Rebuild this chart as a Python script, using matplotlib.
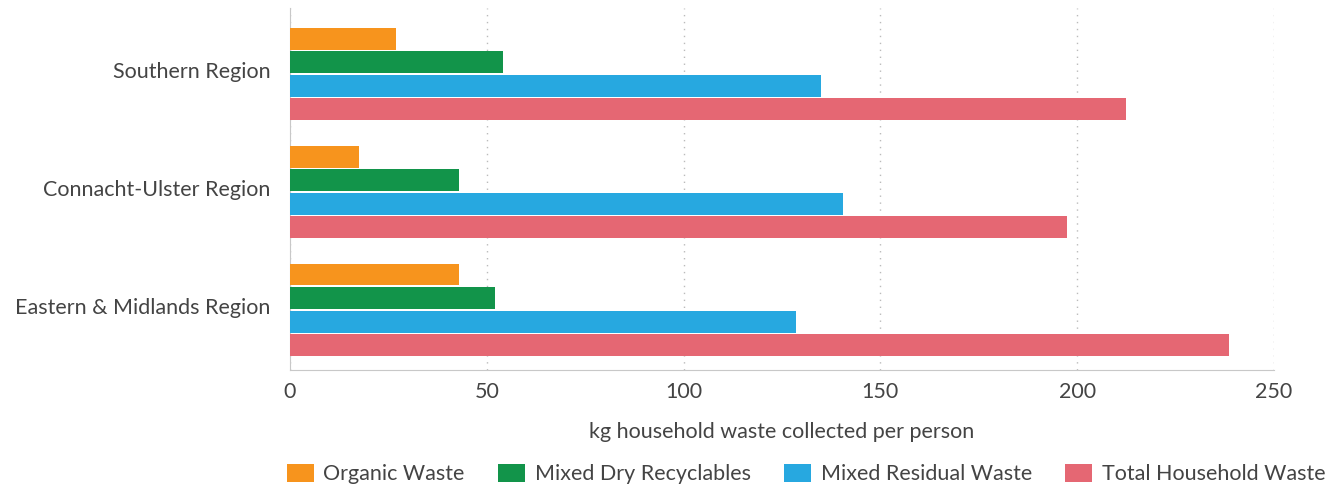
import numpy as np
import matplotlib.pyplot as plt

regions = ['Southern Region', 'Connacht-Ulster Region', 'Eastern & Midlands Region']
series = ['Organic Waste', 'Mixed Dry Recyclables', 'Mixed Residual Waste', 'Total Household Waste']
organic = [27, 17.5, 43]
dry_recyclables = [54, 43, 52]
residual = [135, 140.5, 128.5]
total = [212.5, 197.5, 238.5]
colors = ['#F7941D', '#12944A', '#27A8E0', '#E56773']

plt.rcParams['font.family'] = ['Lato', 'DejaVu Sans']
text_color = '#444444'
fs = 15.5

fig = plt.figure(figsize=(13.43, 4.9), dpi=100)
ax = fig.add_axes([290 / 1343, 1 - 370 / 490, 984 / 1343, 362 / 490])

y = np.arange(len(regions))
h = 0.186
offsets = [-1.5, -0.5, 0.5, 1.5]
for vals, off, c, name in zip([organic, dry_recyclables, residual, total], offsets, colors, series):
    ax.barh(y + off * 0.2, vals, height=h, color=c, label=name, zorder=3)

ax.set_xlim(0, 250)
ax.set_ylim(2.51, -0.56)
ax.set_yticks(y - 0.03)
ax.set_yticklabels(regions)
ax.set_xticks([0, 50, 100, 150, 200, 250])
ax.grid(axis='x', linestyle=(0, (1, 4)), color='#BBBBBB', linewidth=1, zorder=0)
for s in ['top', 'right']:
    ax.spines[s].set_visible(False)
for s in ['left', 'bottom']:
    ax.spines[s].set_color('#C8C8C8')
ax.tick_params(length=0, labelsize=fs, colors=text_color, pad=9)
ax.tick_params(axis='y', pad=14)
ax.set_xlabel('kg household waste collected per person', fontsize=fs, color=text_color, labelpad=14)

fig.legend(loc='center', bbox_to_anchor=(806 / 1343, 1 - 474 / 490), ncol=4, frameon=False,
           fontsize=fs, labelcolor=text_color, handlelength=1.25, handleheight=0.95,
           columnspacing=1.55, handletextpad=0.45, borderpad=0, borderaxespad=0)

fig.savefig('out.png', dpi=100)
